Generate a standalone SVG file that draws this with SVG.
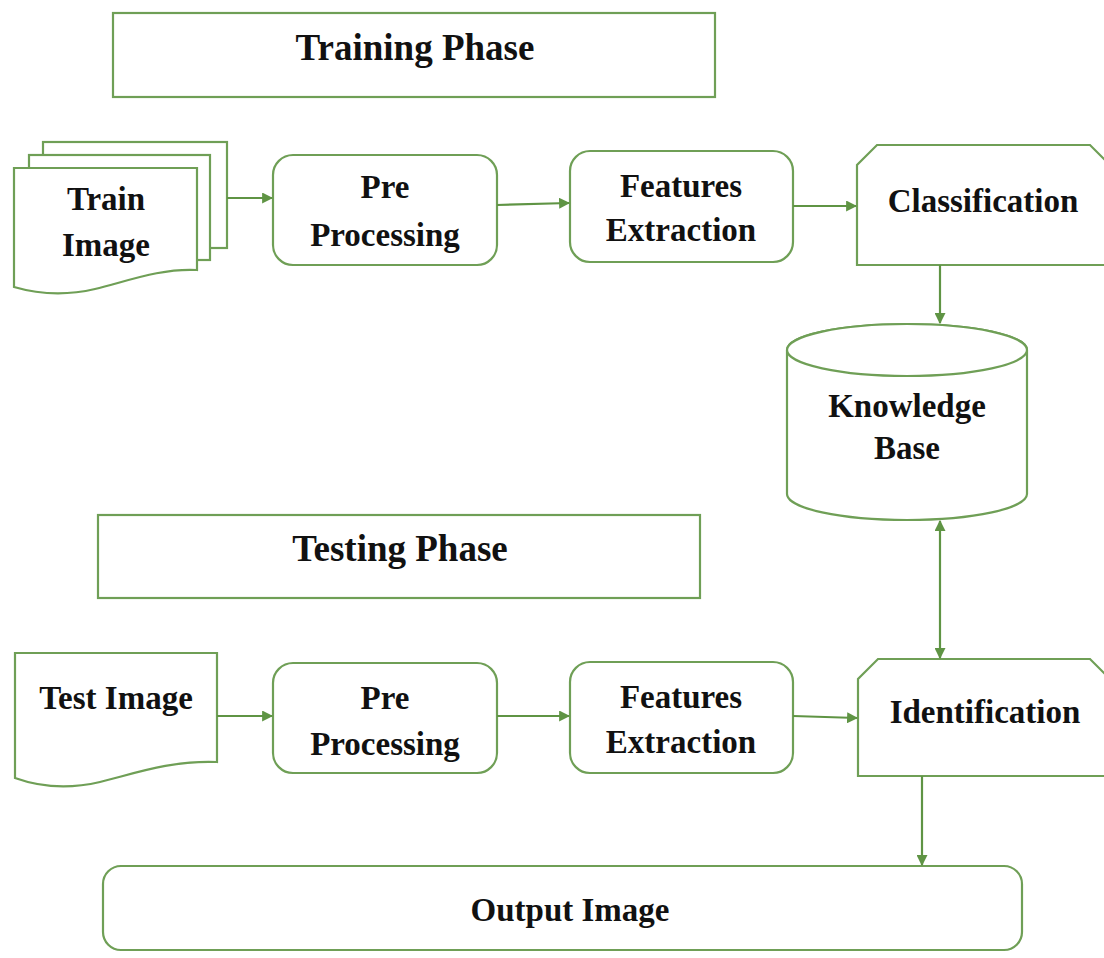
<svg xmlns="http://www.w3.org/2000/svg" width="1104" height="958" viewBox="0 0 1104 958">
<defs>
<marker id="ah" viewBox="0 0 10 10" refX="9" refY="5" markerWidth="5" markerHeight="5" orient="auto-start-reverse">
<path d="M0,0 L10,5 L0,10 Z" fill="#5f9444"/>
</marker>
</defs>
<style>
.s{fill:#fff;stroke:#6f9f56;stroke-width:2.2}
.t{font-family:"Liberation Serif","Times New Roman",serif;font-weight:bold;font-size:33px;fill:#111;text-anchor:middle}
.h{font-size:37px}
.c{fill:none;stroke:#5f9444;stroke-width:2.2}
</style>
<rect width="1104" height="958" fill="#fff"/>
<g id="training-phase">
<rect class="s" x="113" y="13" width="602" height="84"/>
<text class="t h" x="415" y="60">Training Phase</text>
</g>
<g id="train-image">
<rect class="s" x="43" y="142" width="184" height="106"/>
<rect class="s" x="29" y="155" width="181" height="105"/>
<path class="s" d="M14,168 H197 V270 C160,268 125,282 95,289 C65,296 38,294 14,287 Z"/>
<text class="t" x="106" y="210">Train</text>
<text class="t" x="106" y="256">Image</text>
</g>
<g id="pre-processing-1">
<rect class="s" x="273" y="155" width="224" height="110" rx="20"/>
<text class="t" x="385" y="198">Pre</text>
<text class="t" x="385" y="246">Processing</text>
</g>
<g id="features-extraction-1">
<rect class="s" x="570" y="151" width="223" height="111" rx="20"/>
<text class="t" x="681" y="197">Features</text>
<text class="t" x="681" y="241">Extraction</text>
</g>
<g id="classification">
<path class="s" d="M857,265 V165 L877,145 H1090 L1110,165 V265 Z"/>
<text class="t" x="983" y="212">Classification</text>
</g>
<g id="knowledge-base">
<path class="s" d="M787,350 A120,26 0 0 1 1027,350 V494 A120,26 0 0 1 787,494 Z"/>
<ellipse class="s" cx="907" cy="350" rx="120" ry="26"/>
<text class="t" x="907" y="417">Knowledge</text>
<text class="t" x="907" y="459">Base</text>
</g>
<g id="testing-phase">
<rect class="s" x="98" y="515" width="602" height="83"/>
<text class="t h" x="400" y="561">Testing Phase</text>
</g>
<g id="test-image">
<path class="s" d="M15,653 H217 V762 C170,760 130,775 100,782 C70,789 40,787 15,778 Z"/>
<text class="t" x="116" y="709">Test Image</text>
</g>
<g id="pre-processing-2">
<rect class="s" x="273" y="663" width="224" height="110" rx="20"/>
<text class="t" x="385" y="709">Pre</text>
<text class="t" x="385" y="755">Processing</text>
</g>
<g id="features-extraction-2">
<rect class="s" x="570" y="662" width="223" height="111" rx="20"/>
<text class="t" x="681" y="708">Features</text>
<text class="t" x="681" y="753">Extraction</text>
</g>
<g id="identification">
<path class="s" d="M858,776 V679 L878,659 H1090 L1110,679 V776 Z"/>
<text class="t" x="985" y="723">Identification</text>
</g>
<g id="output-image">
<rect class="s" x="103" y="866" width="919" height="84" rx="18"/>
<text class="t" x="570" y="921">Output Image</text>
</g>
<g id="connectors">
<line class="c" x1="227" y1="198" x2="272" y2="198" marker-end="url(#ah)"/>
<line class="c" x1="497" y1="205" x2="569" y2="203" marker-end="url(#ah)"/>
<line class="c" x1="793" y1="206" x2="856" y2="206" marker-end="url(#ah)"/>
<line class="c" x1="940" y1="265" x2="940" y2="323" marker-end="url(#ah)"/>
<line class="c" x1="940" y1="521" x2="940" y2="658" marker-start="url(#ah)" marker-end="url(#ah)"/>
<line class="c" x1="217" y1="716" x2="272" y2="716" marker-end="url(#ah)"/>
<line class="c" x1="497" y1="716" x2="569" y2="716" marker-end="url(#ah)"/>
<line class="c" x1="793" y1="716" x2="857" y2="718" marker-end="url(#ah)"/>
<line class="c" x1="922" y1="776" x2="922" y2="865" marker-end="url(#ah)"/>
</g>
</svg>
